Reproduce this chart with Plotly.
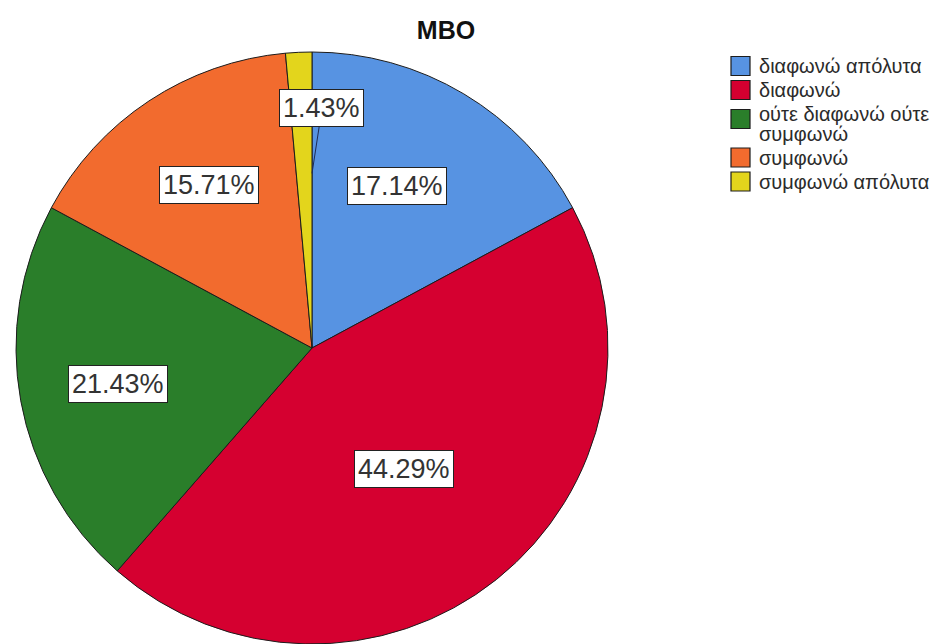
import math
import plotly.graph_objects as go

# Response categories, shares (%) and slice colours
categories = [
    "διαφωνώ απόλυτα",
    "διαφωνώ",
    "ούτε διαφωνώ ούτε<br>συμφωνώ",
    "συμφωνώ",
    "συμφωνώ απόλυτα",
]
percentages = [17.14, 44.29, 21.43, 15.71, 1.43]
colors = ["#5793E2", "#D50030", "#2A7E2A", "#F26B2E", "#E3D51C"]
title_text = "MBO"

# Figure geometry (pixels)
W, H = 952, 644
CX, CY, R = 312, 348, 296
TOP = CY - R

# Label placement: radius fraction and angular nudge (degrees) per slice
label_radius = [0.618, 0.514, 0.667, 0.651, 0.59]
label_nudge = [-3.2, 1.3, -0.2, 1.1, 0.0]


def to_paper(px, py):
    return px / W, 1 - (py - TOP) / (H - TOP)


fig = go.Figure(
    go.Pie(
        labels=categories,
        values=percentages,
        sort=False,
        direction="clockwise",
        rotation=0,
        marker=dict(colors=colors, line=dict(color="#1c1c1c", width=1)),
        textinfo="none",
        hoverinfo="label+percent",
        showlegend=False,
        domain=dict(x=[(CX - R) / W, (CX + R) / W], y=[0, 1]),
    )
)

annotations = []
total = sum(percentages)
cum = 0.0
for i, v in enumerate(percentages):
    start = cum / total * 360
    cum += v
    end = cum / total * 360
    mid = (start + end) / 2 + label_nudge[i]
    text = f"{v:.2f}%"
    box = dict(
        text=text,
        font=dict(family="Liberation Sans, Arial, sans-serif", size=27, color="#333333"),
        bgcolor="white",
        bordercolor="#222222",
        borderwidth=1,
        borderpad=3,
        xref="paper",
        yref="paper",
    )
    if v < 5:
        # small slice: label pulled out above, with a leader line to the slice edge
        tip_r = label_radius[i] * R
        tx = CX + tip_r * math.sin(math.radians(end))
        ty = CY - tip_r * math.cos(math.radians(end))
        px, py = to_paper(tx, ty)
        box.update(x=px, y=py, showarrow=True, arrowhead=0, arrowwidth=1,
                   arrowcolor="#1d2b55", ax=10, ay=-65, standoff=0)
    else:
        rr = label_radius[i] * R
        lx = CX + rr * math.sin(math.radians(mid))
        ly = CY - rr * math.cos(math.radians(mid))
        px, py = to_paper(lx, ly)
        box.update(x=px, y=py, showarrow=False, xanchor="center", yanchor="middle")
    annotations.append(box)

# Legend: coloured squares with category names to the right
shapes = []
sq_x0, sq_size, txt_x = 731, 19, 757
legend_font = 20
item_gap, wrap_gap = 24, 19.5
line_y = 66
for i, (cat, col) in enumerate(zip(categories, colors)):
    lines = cat.split("<br>")
    n = len(lines)
    cy_sq = line_y + (5 if n > 1 else 0)
    x0, y0 = to_paper(sq_x0, cy_sq + sq_size / 2)
    x1, y1 = to_paper(sq_x0 + sq_size, cy_sq - sq_size / 2)
    shapes.append(dict(type="rect", xref="paper", yref="paper",
                       x0=x0, x1=x1, y0=y0, y1=y1,
                       fillcolor=col, line=dict(color="#1c1c1c", width=1.2)))
    if n > 1:
        # wrapped label: tight line pitch via a small base size, glyphs sized by span
        label = "<br>".join(
            f"<span style='font-size:{legend_font}px'>{ln}</span>" for ln in lines
        )
        base_size = wrap_gap / 1.3
    else:
        label = cat
        base_size = legend_font
    ty = line_y + wrap_gap * (n - 1) / 2
    ax_, ay_ = to_paper(txt_x, ty)
    annotations.append(dict(
        text=label, x=ax_, y=ay_, xref="paper", yref="paper",
        xanchor="left", yanchor="middle", align="left", showarrow=False,
        font=dict(family="Liberation Sans, Arial, sans-serif", size=base_size, color="#2b2b2b"),
    ))
    line_y += item_gap + wrap_gap * (n - 1)

fig.update_layout(
    width=W,
    height=H,
    margin=dict(l=0, r=0, t=TOP, b=0),
    paper_bgcolor="white",
    plot_bgcolor="white",
    title=dict(
        text=f"<b>{title_text}</b>",
        x=446 / W,
        xanchor="center",
        y=1 - 30 / H,
        yanchor="middle",
        yref="container",
        font=dict(family="Liberation Sans, Arial, sans-serif", size=25, color="#111111"),
    ),
    annotations=annotations,
    shapes=shapes,
    showlegend=False,
)

fig.write_html("out.html")
